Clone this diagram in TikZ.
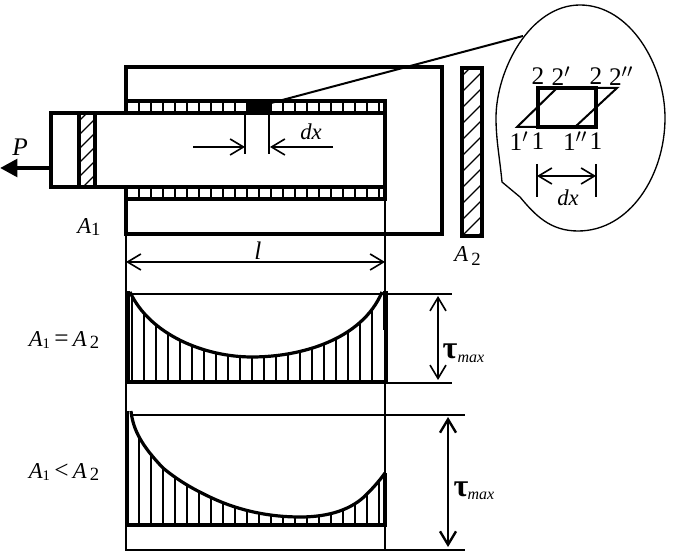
\documentclass[tikz,border=0pt]{standalone}
\usepackage{fontspec}
\setmainfont{Liberation Serif}
\usetikzlibrary{arrows.meta}
\def\lowcurve{(131, 411) .. controls (133, 430) and (142, 446) .. (163, 468) .. controls (180, 482) and (195, 490) .. (212, 498) .. controls (240, 511) and (270, 517) .. (300, 517) .. controls (330, 517) and (352, 509) .. (366, 495) .. controls (374, 487) and (380, 480) .. (385, 473)}
\tikzset{
	heavy/.style={line width=2.4pt},
	medium/.style={line width=1.5pt},
	thin line/.style={line width=1pt},
	open tip/.style={line width=1.2pt, {Straight Barb[length=10pt,width=12pt]}-{Straight Barb[length=10pt,width=12pt]}},
	label/.style={inner sep=0pt, font=\fontsize{17}{17}\selectfont},
	big label/.style={inner sep=0pt, font=\fontsize{19}{19}\selectfont},
	tau label/.style={inner sep=0pt, font=\fontsize{24}{24}\selectfont\bfseries},
	small label/.style={inner sep=0pt, font=\fontsize{12}{12}\selectfont\itshape}
}
\begin{document}
\begin{tikzpicture}[x=0.75pt, y=-0.75pt]
		%%%%% START %%%%%
		\useasboundingbox (0, 0) rectangle (683, 552);
		
		% frame and plate
		\draw[heavy] (126, 101) -- (126, 67) -- (442, 67) -- (442, 234) -- (126, 234) -- (126, 199);
		\draw[heavy] (126, 101) rectangle (385, 113);
		\draw[heavy] (126, 187) rectangle (385, 199);
		\draw[heavy] (126, 113) -- (51, 113) -- (51, 187) -- (126, 187);
		\draw[heavy] (385, 113) -- (385, 187);
		\foreach \x in {139, 151, ..., 380} {
			\draw[medium] (\x, 101) -- (\x, 113);
			\draw[medium] (\x, 187) -- (\x, 199);
		}
		\draw[fill=black] (246, 100) rectangle (270, 114);
		
		% hatched section
		\begin{scope}
			\clip (79, 113) rectangle (95, 187);
			\foreach \y in {125, 139, ..., 209} {
				\draw[thin line] (75, \y) -- (99, \y - 24);
			}
		\end{scope}
		\draw[heavy] (79, 113) -- (79, 187);
		\draw[heavy] (95, 113) -- (95, 187);
		
		% cut at dx
		\draw[medium] (245, 113) -- (245, 154);
		\draw[medium] (269, 113) -- (269, 154);
		\draw[line width=1.2pt, -{Straight Barb[length=10pt,width=12pt]}] (193, 147) -- (245, 147);
		\draw[line width=1.2pt, -{Straight Barb[length=10pt,width=12pt]}] (333, 147) -- (270, 147);
		\node[label] (dxcut) at (311, 132) {\itshape dx};
		
		% force
		\draw[line width=3.2pt, -{Triangle[length=13pt,width=13pt]}] (51, 168) -- (0, 168);
		\node[big label] (force) at (20, 147) {\itshape P};
		\node[label, anchor=west] (areaone) at (77, 227) {\textit{A}\fontsize{14}{14}\selectfont\raisebox{-2pt}{1}};
		
		% length
		\draw[thin line] (126, 234) -- (126, 551);
		\draw[thin line] (385, 199) -- (385, 551);
		\draw[open tip] (126, 262) -- (385, 262);
		\node[big label] (length) at (258, 251) {\itshape l};
		
		% second strip
		\begin{scope}
			\clip (462, 68) rectangle (482, 236);
			\foreach \y in {80, 96, ..., 256} {
				\draw[thin line] (458, \y) -- (486, \y - 28);
			}
		\end{scope}
		\draw[heavy] (462, 68) rectangle (482, 236);
		\node[label, anchor=west] (areatwo) at (454, 256) {\textit{A}\fontsize{14}{14}\selectfont\raisebox{-3pt}{\,2}};
		
		% detail bubble
		\draw[medium] (271, 103) -- (523, 36);
		\draw[thin line] (502, 182) .. controls (500, 160) and (496, 140) .. (496, 118)
			.. controls (496, 70) and (530, 5) .. (580, 5)
			.. controls (630, 5) and (665, 65) .. (665, 118)
			.. controls (665, 175) and (630, 231) .. (578, 231)
			.. controls (550, 231) and (535, 215) .. (520, 197) -- cycle;
		\draw[heavy] (538, 88) rectangle (596, 127);
		\draw[medium] (596, 88) -- (617, 88) -- (575, 127);
		\draw[medium] (538, 127) -- (517, 127) -- (557, 88);
		\node[big label] (ctwo) at (538, 76) {2};
		\node[big label] (ctwoa) at (561, 76) {2$'$};
		\node[big label] (dtwo) at (596, 76) {2};
		\node[big label] (dtwoa) at (621, 76) {2$''$};
		\node[big label] (cone) at (519, 141) {1$'$};
		\node[big label] (done) at (538, 141) {1};
		\node[big label] (conea) at (575, 141) {1$''$};
		\node[big label] (eone) at (596, 141) {1};
		\draw[medium] (537, 164) -- (537, 197);
		\draw[medium] (596, 164) -- (596, 197);
		\draw[open tip] (537, 176) -- (596, 176);
		\node[label] (dxzoom) at (568, 198) {\itshape dx};
		
		% equal areas
		\begin{scope}
			\clip (130, 292) .. controls (150, 335) and (205, 357) .. (252, 357)
				.. controls (300, 357) and (362, 340) .. (382, 292) -- (385, 382) -- (126, 382) -- cycle;
			\foreach \x in {132, 144, ..., 380} {
				\draw[medium] (\x, 290) -- (\x, 382);
			}
		\end{scope}
		\draw[heavy] (130, 292) .. controls (150, 335) and (205, 357) .. (252, 357)
			.. controls (300, 357) and (362, 340) .. (382, 292);
		\draw[heavy] (128, 291) -- (128, 382) -- (386, 382) -- (386, 291);
		\draw[line width=3pt] (385, 291) -- (385, 330);
		\draw[thin line] (130, 294) -- (452, 294);
		\draw[thin line] (385, 383) -- (452, 383);
		\draw[open tip] (438, 296) -- (438, 380);
		\node[tau label] (tauone) at (450, 351) {τ};
		\node[small label] (maxone) at (471, 359) {max};
		\node[label] (eqlabel) at (64, 340) {\textit{A}\fontsize{11}{11}\selectfont\raisebox{-2pt}{1}\fontsize{19}{19}\selectfont\,=\,\fontsize{17}{17}\selectfont\textit{A}\fontsize{14}{14}\selectfont\raisebox{-2pt}{\,2}};
		
		% unequal areas
		\begin{scope}
			\clip \lowcurve -- (385, 525) -- (126, 525) -- cycle;
			\foreach \x in {139, 151, ..., 380} {
				\draw[medium] (\x, 410) -- (\x, 525);
			}
		\end{scope}
		\draw[heavy] \lowcurve;
		\draw[heavy] (127, 411) -- (127, 525) -- (385, 525) -- (385, 473);
		\draw[thin line] (131, 415) -- (465, 415);
		\draw[thin line] (127, 550) -- (465, 550);
		\draw[open tip, line width=1.8pt] (448, 417) -- (448, 547);
		\node[tau label] (tautwo) at (461, 489) {τ};
		\node[small label] (maxtwo) at (481, 496) {max};
		\node[label] (ltlabel) at (64, 472) {\textit{A}\fontsize{11}{11}\selectfont\raisebox{-2pt}{1}\fontsize{19}{19}\selectfont\,<\,\fontsize{17}{17}\selectfont\textit{A}\fontsize{14}{14}\selectfont\raisebox{-2pt}{\,2}};
		
		%%%%% END %%%%%
	\end{tikzpicture}
\end{document}
